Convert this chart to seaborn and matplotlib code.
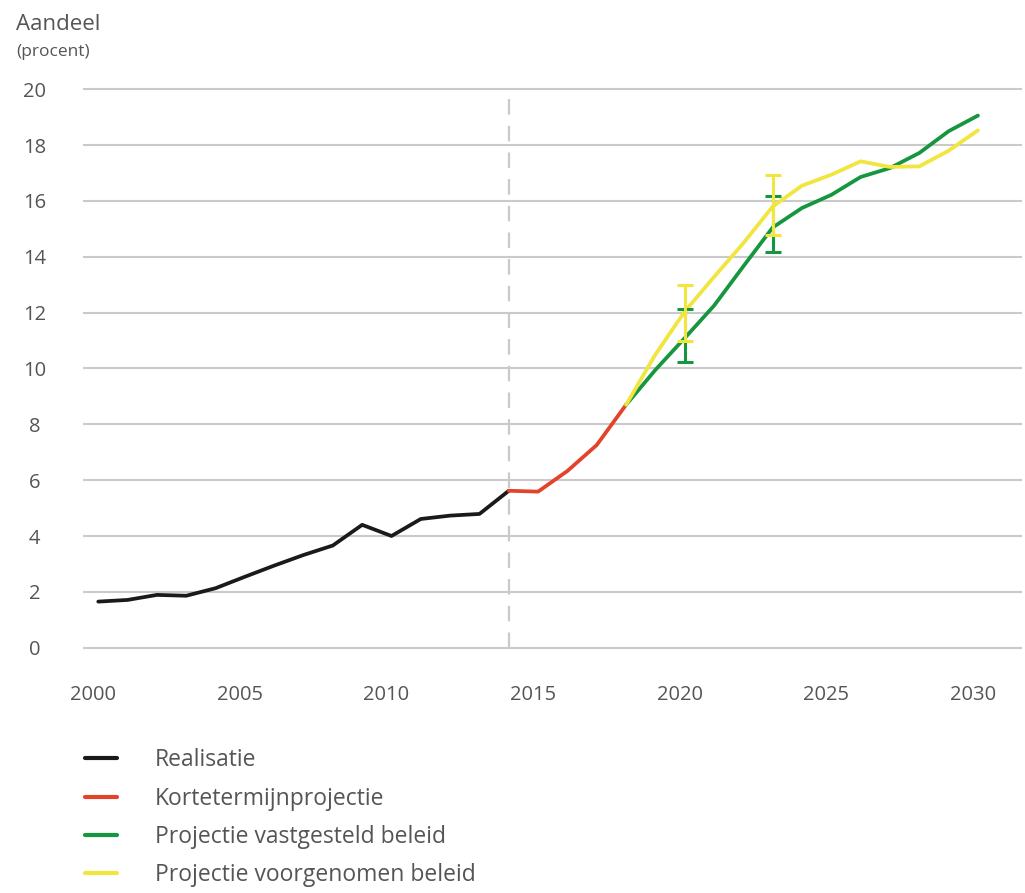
import numpy as np
import pandas as pd
import matplotlib
matplotlib.use("Agg")
import matplotlib.pyplot as plt
import matplotlib.transforms as mtransforms
import seaborn as sns
from matplotlib.lines import Line2D

# ---- data ----
years_real = list(range(2000, 2015))
realisatie = [1.65, 1.71, 1.89, 1.86, 2.13, 2.54, 2.94, 3.32, 3.66, 4.40, 4.00, 4.61, 4.73, 4.79, 5.62]
years_short = list(range(2014, 2019))
kortetermijn = [5.62, 5.59, 6.33, 7.26, 8.70]
years_proj = list(range(2018, 2031))
vastgesteld = [8.70, 9.95, 11.09, 12.25, 13.66, 15.05, 15.75, 16.22, 16.86, 17.18, 17.72, 18.50, 19.06]
voorgenomen = [8.70, 10.50, 12.04, 13.28, 14.49, 15.80, 16.55, 16.94, 17.42, 17.22, 17.24, 17.80, 18.53]

err_years = [2020, 2023]
vast_low = [10.25, 14.19]
vast_high = [12.14, 16.17]
voor_low = [11.00, 14.79]
voor_high = [13.00, 16.94]

labels = ["Realisatie", "Kortetermijnprojectie", "Projectie vastgesteld beleid", "Projectie voorgenomen beleid"]
colors = ["#1a1a1a", "#e4432b", "#16963f", "#f1e53e"]
xticks = [2000, 2005, 2010, 2015, 2020, 2025, 2030]
yticks = list(range(0, 21, 2))

sns.set_theme(style="white")
plt.rcParams["font.family"] = ["Open Sans", "DejaVu Sans"]

df = pd.concat([
    pd.DataFrame({"jaar": years_real, "aandeel": realisatie, "reeks": labels[0]}),
    pd.DataFrame({"jaar": years_short, "aandeel": kortetermijn, "reeks": labels[1]}),
    pd.DataFrame({"jaar": years_proj, "aandeel": vastgesteld, "reeks": labels[2]}),
    pd.DataFrame({"jaar": years_proj, "aandeel": voorgenomen, "reeks": labels[3]}),
])

fig = plt.figure(figsize=(10.25, 8.93), dpi=100)
ax = fig.add_axes([0.081, 0.2716, 0.916, 0.6315])

grid_c = "#cacaca"
for y in yticks:
    ax.axhline(y, color=grid_c, lw=1.5, zorder=0)
ax.vlines(2014, 0, 20, colors=grid_c, lw=1.6, linestyles=(0, (7, 5)), zorder=1)

lw = 2.7
sns.lineplot(data=df, x="jaar", y="aandeel", hue="reeks", hue_order=labels,
             palette=dict(zip(labels, colors)), lw=lw, legend=False, ax=ax,
             estimator=None, sort=False)

# error bars
v_mid = [(a + b) / 2 for a, b in zip(vast_low, vast_high)]
ax.errorbar(err_years, v_mid, yerr=[np.subtract(v_mid, vast_low), np.subtract(vast_high, v_mid)],
            fmt="none", ecolor=colors[2], elinewidth=2.2, capsize=6, capthick=2.2, zorder=5)
y_mid = [(a + b) / 2 for a, b in zip(voor_low, voor_high)]
ax.errorbar(err_years, y_mid, yerr=[np.subtract(y_mid, voor_low), np.subtract(voor_high, y_mid)],
            fmt="none", ecolor=colors[3], elinewidth=2.2, capsize=5.5, capthick=2.2, zorder=6)

ax.set_xlim(1999.48, 2031.5)
ax.set_ylim(-0.1, 20.1)
ax.set_xticks(xticks)
ax.set_yticks(yticks)
ax.set_xticklabels([str(x) for x in xticks])
ax.set_yticklabels([str(y) for y in yticks])
ax.tick_params(axis="x", length=0, pad=25, labelsize=14.5, labelcolor="#555555")
ax.tick_params(axis="y", length=0, pad=35, labelsize=14.5, labelcolor="#555555")
shift = mtransforms.ScaledTranslation(-5 / 100, 0, fig.dpi_scale_trans)
for t in ax.get_xticklabels():
    t.set_transform(t.get_transform() + shift)
for t in ax.get_yticklabels():
    t.set_horizontalalignment("center")
ax.set_xlabel("")
ax.set_ylabel("")
for s in ax.spines.values():
    s.set_visible(False)
ax.grid(False)

fig.text(0.016, 0.966, "Aandeel", fontsize=16, color="#555555", ha="left", va="baseline")
fig.text(0.016, 0.937, "(procent)", fontsize=12.5, color="#555555", ha="left", va="baseline")

handles = [Line2D([0], [0], color=c, lw=3) for c in colors]
fig.legend(handles, labels, loc="upper left", bbox_to_anchor=(0.083, 0.162),
           frameon=False, fontsize=16.5, handlelength=1.4, handletextpad=1.65,
           labelspacing=0.62, borderpad=0, borderaxespad=0, labelcolor="#555555")

fig.savefig("out.png", dpi=100)
